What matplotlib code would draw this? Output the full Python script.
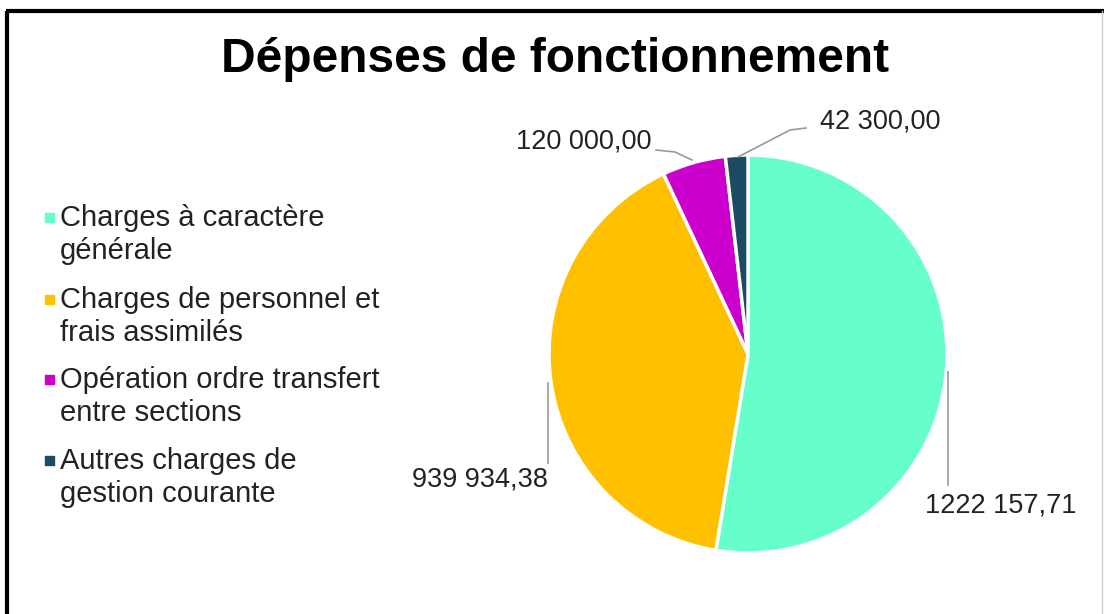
import numpy as np
import matplotlib.pyplot as plt
from matplotlib.patches import Rectangle

# Data
categories = ['Charges à caractère\ngénérale',
              'Charges de personnel et\nfrais assimilés',
              'Opération ordre transfert\nentre sections',
              'Autres charges de\ngestion courante']
values = [1222157.71, 939934.38, 120000.00, 42300.00]
value_labels = ['1222 157,71', '939 934,38', '120 000,00', '42 300,00']
colors = ['#66FFCC', '#FFC000', '#CC00CC', '#1B4B63']

plt.rcParams['font.family'] = ['Liberation Sans', 'DejaVu Sans']

W, H = 1104, 614
fig = plt.figure(figsize=(W / 100, H / 100), dpi=100)
ax = fig.add_axes([0, 0, 1, 1])

# pie in pixel-like coordinates (y up)
cx, cy, r = 748, H - 354, 199
wedges, _ = ax.pie(values, colors=colors, startangle=90, counterclock=False,
                   center=(cx, cy), radius=r,
                   wedgeprops=dict(edgecolor='white', linewidth=2.5))
ax.set_xlim(0, W)
ax.set_ylim(0, H)
ax.set_aspect('equal')
ax.axis('off')

# border of the chart area
ax.plot([7, 7], [0, H - 11], color='black', lw=3, solid_capstyle='butt')
ax.plot([6, W], [H - 11, H - 11], color='black', lw=3, solid_capstyle='butt')
ax.plot([W - 2, W - 2], [0, H - 11], color='#cccccc', lw=1)

# title
ax.text(555, H - 60, 'Dépenses de fonctionnement', ha='center', va='center',
        fontsize=34.5, fontweight='bold', color='black')

# data labels with leader lines
grey = '#999999'
lab_fs = 19.5
# each: (text x, text y, ha, leader path in pixel coords from top)
label_spec = [
    (925, 505, 'left', [(948, 372), (948, 485)]),
    (548, 480, 'right', [(548, 383), (548, 463)]),
    (651, 141, 'right', [(656, 150), (675, 152), (692, 160)]),
    (820, 121, 'left', [(806, 128), (790, 130), (738, 157)]),
]
for (tx, ty, ha, path), txt in zip(label_spec, value_labels):
    xs = [p[0] for p in path]
    ys = [H - p[1] for p in path]
    ax.plot(xs, ys, color=grey, lw=1.2)
    ax.text(tx, H - ty, txt, ha=ha, va='center', fontsize=lab_fs, color='#222222')

# legend, marker aligned with the first line of each entry
leg_y = [217, 299, 379, 460]
for y, c, lab in zip(leg_y, colors, categories):
    ax.add_patch(Rectangle((45, H - y - 4.5), 9, 9, color=c))
    ax.text(60, H - y + 13, lab, ha='left', va='top', fontsize=21,
            color='#222222', linespacing=1.24)

fig.savefig('out.png', dpi=100)
